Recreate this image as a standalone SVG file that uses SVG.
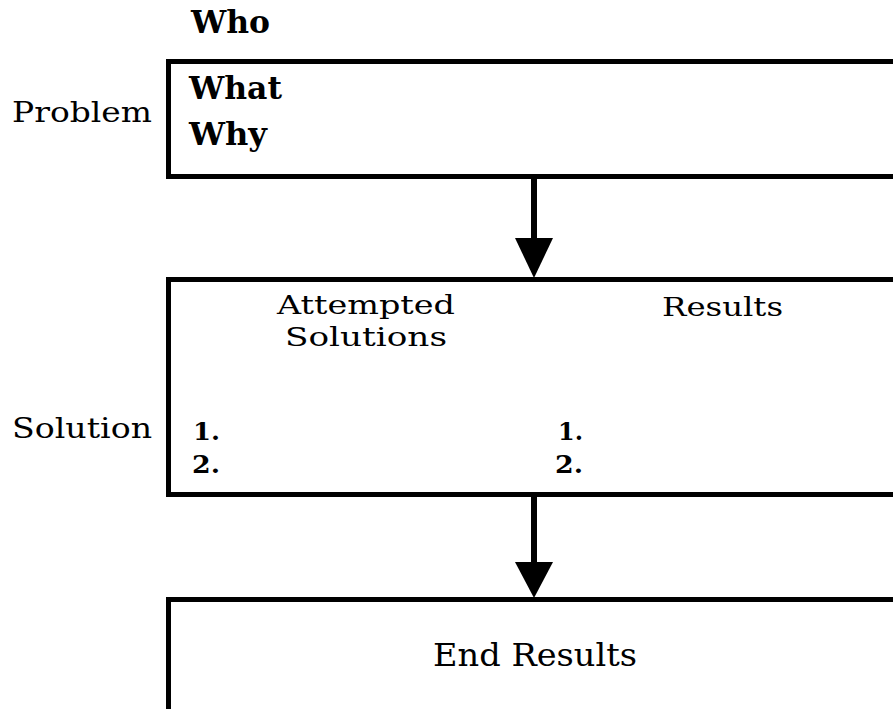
<svg xmlns="http://www.w3.org/2000/svg" width="893" height="709" viewBox="0 0 893 709">
  <style>
    .box { fill: #ffffff; stroke: #000000; stroke-width: 5; }
    .lbl { font-family: "DejaVu Serif", "Liberation Serif", serif; fill: #000000; }
    .head { font-size: 31px; font-weight: bold; }
    .side { font-size: 27px; }
    .col { font-size: 26.5px; }
    .num { font-size: 24px; font-weight: bold; }
    .end { font-size: 31px; }
    .shaft { stroke: #000000; stroke-width: 6; fill: none; }
    .tip { fill: #000000; }
  </style>
  <rect width="893" height="709" fill="#ffffff"/>

  <!-- connectors between the three stages -->
  <g id="connectors">
    <line class="shaft" x1="534" y1="178" x2="534" y2="240"/>
    <polygon class="tip" points="515,238 553,238 534,278"/>
    <line class="shaft" x1="534" y1="497" x2="534" y2="564"/>
    <polygon class="tip" points="515,562 553,562 534,598"/>
  </g>

  <!-- problem stage -->
  <g id="problem">
    <text class="lbl head" x="191" y="33" textLength="79" lengthAdjust="spacingAndGlyphs">Who</text>
    <rect class="box" x="168.5" y="61.5" width="740" height="115"/>
    <text class="lbl side" x="12" y="122" textLength="140" lengthAdjust="spacingAndGlyphs">Problem</text>
    <text class="lbl head" x="189" y="99" textLength="93" lengthAdjust="spacingAndGlyphs">What</text>
    <text class="lbl head" x="189" y="145" textLength="78" lengthAdjust="spacingAndGlyphs">Why</text>
  </g>

  <!-- solution stage -->
  <g id="solution">
    <rect class="box" x="168.5" y="279.5" width="740" height="215"/>
    <text class="lbl side" x="12" y="438" textLength="140" lengthAdjust="spacingAndGlyphs">Solution</text>
    <text class="lbl col" x="277" y="314" textLength="178" lengthAdjust="spacingAndGlyphs">Attempted</text>
    <text class="lbl col" x="285" y="346" textLength="162" lengthAdjust="spacingAndGlyphs">Solutions</text>
    <text class="lbl col" x="662" y="316" textLength="121" lengthAdjust="spacingAndGlyphs">Results</text>
    <text class="lbl num" x="193" y="440" textLength="27" lengthAdjust="spacingAndGlyphs">1.</text>
    <text class="lbl num" x="192" y="473" textLength="28" lengthAdjust="spacingAndGlyphs">2.</text>
    <text class="lbl num" x="558" y="440" textLength="25" lengthAdjust="spacingAndGlyphs">1.</text>
    <text class="lbl num" x="555" y="473" textLength="28" lengthAdjust="spacingAndGlyphs">2.</text>
  </g>

  <!-- final stage -->
  <g id="end-results">
    <rect class="box" x="168.5" y="599.5" width="740" height="140"/>
    <text class="lbl end" x="433" y="666" textLength="204" lengthAdjust="spacingAndGlyphs">End Results</text>
  </g>
</svg>
